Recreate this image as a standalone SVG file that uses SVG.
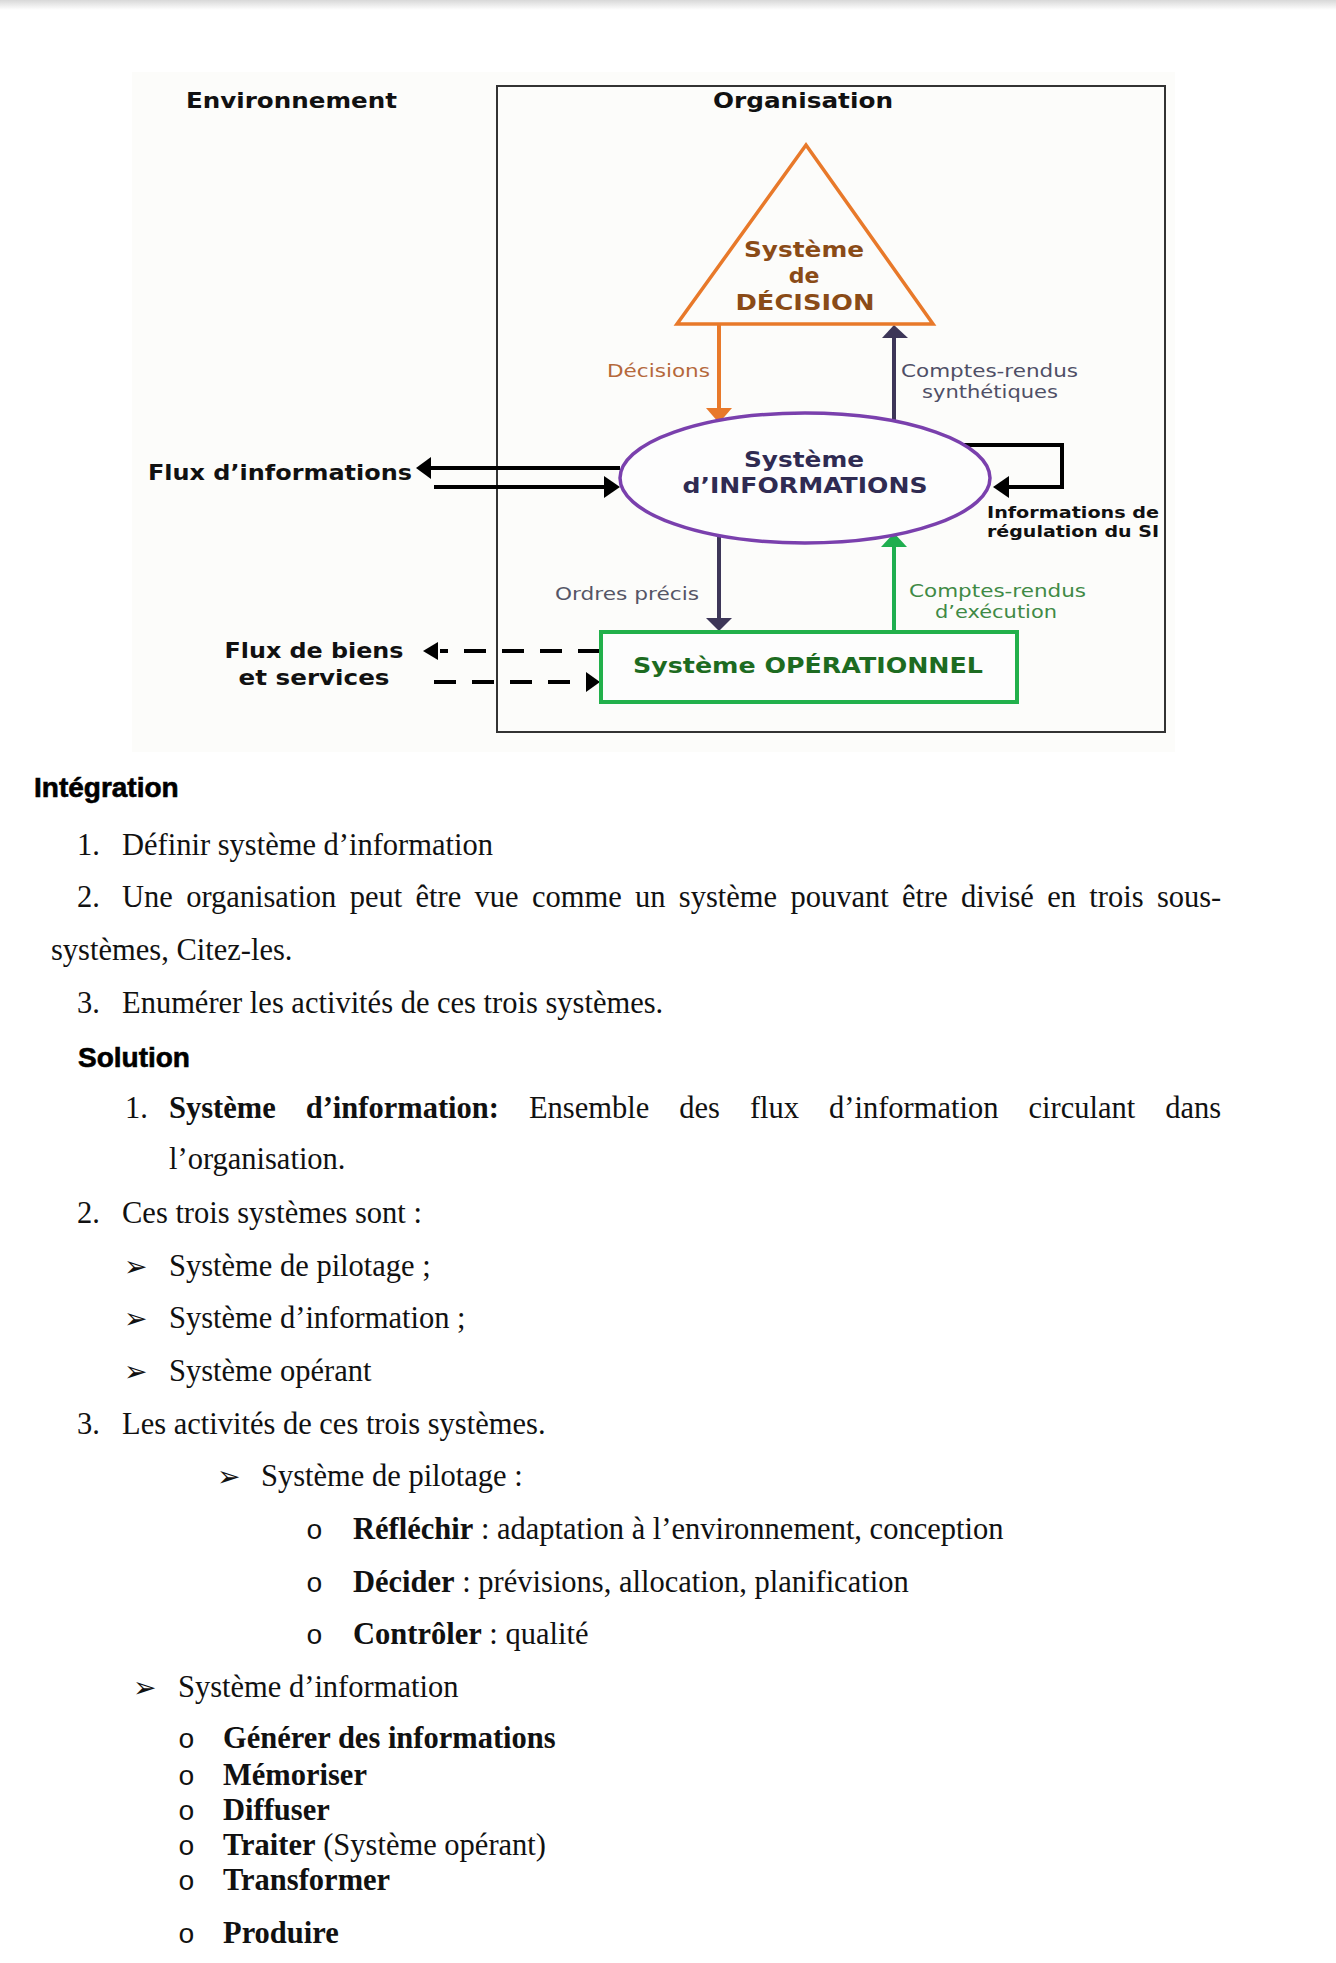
<svg xmlns="http://www.w3.org/2000/svg" width="1336" height="1963" viewBox="0 0 1336 1963">
<defs>
<linearGradient id="topShade" x1="0" y1="0" x2="0" y2="1">
<stop offset="0" stop-color="#d8d8d8"/>
<stop offset="1" stop-color="#ffffff"/>
</linearGradient>
<style>
.dg{font-family:"DejaVu Sans","Verdana",sans-serif;}
.b{font-weight:bold;}
.body{font-family:"Liberation Serif","Times New Roman",serif;font-size:30.5px;fill:#111;}
.head{font-family:"Liberation Sans",Arial,sans-serif;font-size:28px;font-weight:bold;fill:#000;stroke:#000;stroke-width:0.6px;}
.bul{font-family:"DejaVu Sans",sans-serif;font-size:28px;fill:#111;}
.obul{font-family:"Liberation Mono","Courier New",monospace;font-size:28px;fill:#111;}
.blk{stroke:#000;stroke-width:4;fill:none;}
.dash{stroke:#000;stroke-width:4;fill:none;stroke-dasharray:22 16;}
</style>
</defs>
<rect width="1336" height="1963" fill="#ffffff"/>
<rect x="0" y="0" width="1336" height="10" fill="url(#topShade)"/>
<rect x="132" y="72" width="1043" height="680" fill="#fcfcfa"/>

<g id="organisation">
<rect x="497" y="86" width="668" height="646" fill="none" stroke="#333" stroke-width="2"/>
<text class="dg b" x="803" y="108" font-size="22" text-anchor="middle" textLength="180" lengthAdjust="spacingAndGlyphs" fill="#111">Organisation</text>
</g>
<g id="environnement">
<text class="dg b" x="186" y="108" font-size="22" textLength="211" lengthAdjust="spacingAndGlyphs" fill="#111">Environnement</text>
</g>

<g id="connectors">
<line x1="719" y1="324" x2="719" y2="410" stroke="#e8792a" stroke-width="4"/>
<polygon points="706,408 732,408 719,423" fill="#e8792a"/>
<line x1="894" y1="420" x2="894" y2="336" stroke="#3d3658" stroke-width="4"/>
<polygon points="882,338 908,338 894,325" fill="#3d3658"/>
<line x1="719" y1="534" x2="719" y2="620" stroke="#3d3658" stroke-width="4"/>
<polygon points="706,618 732,618 719,631" fill="#3d3658"/>
<line x1="894" y1="632" x2="894" y2="545" stroke="#1fae4f" stroke-width="4"/>
<polygon points="881,547 907,547 894,533" fill="#1fae4f"/>
<polyline class="blk" points="963,445 1062,445 1062,487 1007,487"/>
<polygon points="1009,476 1009,498 993,487" fill="#000"/>
<line class="blk" x1="620" y1="468" x2="429" y2="468"/>
<polygon points="431,457 431,479 416,468" fill="#000"/>
<line class="blk" x1="434" y1="487" x2="606" y2="487"/>
<polygon points="604,476 604,498 620,487" fill="#000"/>
<line class="dash" x1="600" y1="651" x2="440" y2="651"/>
<polygon points="438,642 438,660 423,651" fill="#000"/>
<line class="dash" x1="434" y1="682" x2="588" y2="682"/>
<polygon points="586,672 586,692 600,682" fill="#000"/>
</g>

<g id="systeme-decision">
<polygon points="806,145 677,324 933,324" fill="none" stroke="#e8792a" stroke-width="3.5"/>
<text class="dg b" x="804" y="257" font-size="22" text-anchor="middle" textLength="120" lengthAdjust="spacingAndGlyphs" fill="#8a4b17">Système</text>
<text class="dg b" x="804" y="283" font-size="22" text-anchor="middle" fill="#8a4b17">de</text>
<text class="dg b" x="805" y="310" font-size="22" text-anchor="middle" textLength="139" lengthAdjust="spacingAndGlyphs" fill="#8a4b17">DÉCISION</text>
</g>
<g id="label-decisions">
<text class="dg" x="607" y="377" font-size="18" textLength="103" lengthAdjust="spacingAndGlyphs" fill="#b5683a">Décisions</text>
</g>
<g id="label-cr-synth">
<text class="dg" x="901" y="377" font-size="18" textLength="177" lengthAdjust="spacingAndGlyphs" fill="#4f4f66">Comptes-rendus</text>
<text class="dg" x="990" y="398" font-size="18" text-anchor="middle" textLength="136" lengthAdjust="spacingAndGlyphs" fill="#4f4f66">synthétiques</text>
</g>

<g id="systeme-information">
<ellipse cx="805" cy="478" rx="185" ry="65" fill="#fdfdfd" stroke="#7a40ad" stroke-width="3.5"/>
<text class="dg b" x="804" y="467" font-size="22" text-anchor="middle" textLength="120" lengthAdjust="spacingAndGlyphs" fill="#2f2b52">Système</text>
<text class="dg b" x="805" y="493" font-size="22" text-anchor="middle" textLength="245" lengthAdjust="spacingAndGlyphs" fill="#2f2b52">d’INFORMATIONS</text>
</g>
<g id="label-regulation">
<text class="dg b" x="987" y="518" font-size="16" textLength="172" lengthAdjust="spacingAndGlyphs" fill="#111">Informations de</text>
<text class="dg b" x="987" y="537" font-size="16" textLength="172" lengthAdjust="spacingAndGlyphs" fill="#111">régulation du SI</text>
</g>
<g id="label-ordres">
<text class="dg" x="555" y="600" font-size="18" textLength="144" lengthAdjust="spacingAndGlyphs" fill="#555566">Ordres précis</text>
</g>
<g id="label-cr-exec">
<text class="dg" x="909" y="597" font-size="18" textLength="177" lengthAdjust="spacingAndGlyphs" fill="#3f8a45">Comptes-rendus</text>
<text class="dg" x="996" y="618" font-size="18" text-anchor="middle" textLength="122" lengthAdjust="spacingAndGlyphs" fill="#3f8a45">d’exécution</text>
</g>

<g id="systeme-operationnel">
<rect x="601" y="632" width="416" height="70" fill="#fdfdfd" stroke="#22b04b" stroke-width="4"/>
<text class="dg b" x="808" y="673" font-size="22" text-anchor="middle" textLength="350" lengthAdjust="spacingAndGlyphs" fill="#1d6b21">Système OPÉRATIONNEL</text>
</g>

<g id="flux-informations">
<text class="dg b" x="148" y="480" font-size="22" textLength="264" lengthAdjust="spacingAndGlyphs" fill="#111">Flux d’informations</text>
</g>
<g id="flux-biens">
<text class="dg b" x="314" y="658" font-size="22" text-anchor="middle" textLength="179" lengthAdjust="spacingAndGlyphs" fill="#111">Flux de biens</text>
<text class="dg b" x="314" y="685" font-size="22" text-anchor="middle" textLength="151" lengthAdjust="spacingAndGlyphs" fill="#111">et services</text>
</g>

<g id="texte">
<text class="head" x="34" y="797">Intégration</text>
<text class="body" x="77" y="855">1.</text>
<text class="body" x="122" y="855">Définir système d’information</text>
<text class="body" x="77" y="907">2.</text>
<text class="body" x="122" y="907" word-spacing="5.7">Une organisation peut être vue comme un système pouvant être divisé en trois sous-</text>
<text class="body" x="51" y="960">systèmes, Citez-les.</text>
<text class="body" x="77" y="1013">3.</text>
<text class="body" x="122" y="1013">Enumérer les activités de ces trois systèmes.</text>
<text class="head" x="78" y="1067">Solution</text>
<text class="body" x="125" y="1118">1.</text>
<text class="body" x="169" y="1118" word-spacing="22.4"><tspan font-weight="bold">Système d’information:</tspan> Ensemble des flux d’information circulant dans</text>
<text class="body" x="169" y="1169">l’organisation.</text>
<text class="body" x="77" y="1223">2.</text>
<text class="body" x="122" y="1223">Ces trois systèmes sont :</text>
<text class="bul" x="124" y="1276">➢</text>
<text class="body" x="169" y="1276">Système de pilotage ;</text>
<text class="bul" x="124" y="1328">➢</text>
<text class="body" x="169" y="1328">Système d’information ;</text>
<text class="bul" x="124" y="1381">➢</text>
<text class="body" x="169" y="1381">Système opérant</text>
<text class="body" x="77" y="1434">3.</text>
<text class="body" x="122" y="1434">Les activités de ces trois systèmes.</text>
<text class="bul" x="217" y="1486">➢</text>
<text class="body" x="261" y="1486">Système de pilotage :</text>
<text class="obul" x="306" y="1539">o</text>
<text class="body" x="353" y="1539"><tspan font-weight="bold">Réfléchir</tspan> : adaptation à l’environnement, conception</text>
<text class="obul" x="306" y="1592">o</text>
<text class="body" x="353" y="1592"><tspan font-weight="bold">Décider</tspan> : prévisions, allocation, planification</text>
<text class="obul" x="306" y="1644">o</text>
<text class="body" x="353" y="1644"><tspan font-weight="bold">Contrôler</tspan> : qualité</text>
<text class="bul" x="133" y="1697">➢</text>
<text class="body" x="178" y="1697">Système d’information</text>
<text class="obul" x="178" y="1748">o</text>
<text class="body" x="223" y="1748" font-weight="bold">Générer des informations</text>
<text class="obul" x="178" y="1785">o</text>
<text class="body" x="223" y="1785" font-weight="bold">Mémoriser</text>
<text class="obul" x="178" y="1820">o</text>
<text class="body" x="223" y="1820" font-weight="bold">Diffuser</text>
<text class="obul" x="178" y="1855">o</text>
<text class="body" x="223" y="1855"><tspan font-weight="bold">Traiter</tspan> (Système opérant)</text>
<text class="obul" x="178" y="1890">o</text>
<text class="body" x="223" y="1890" font-weight="bold">Transformer</text>
<text class="obul" x="178" y="1943">o</text>
<text class="body" x="223" y="1943" font-weight="bold">Produire</text>
</g>
</svg>
